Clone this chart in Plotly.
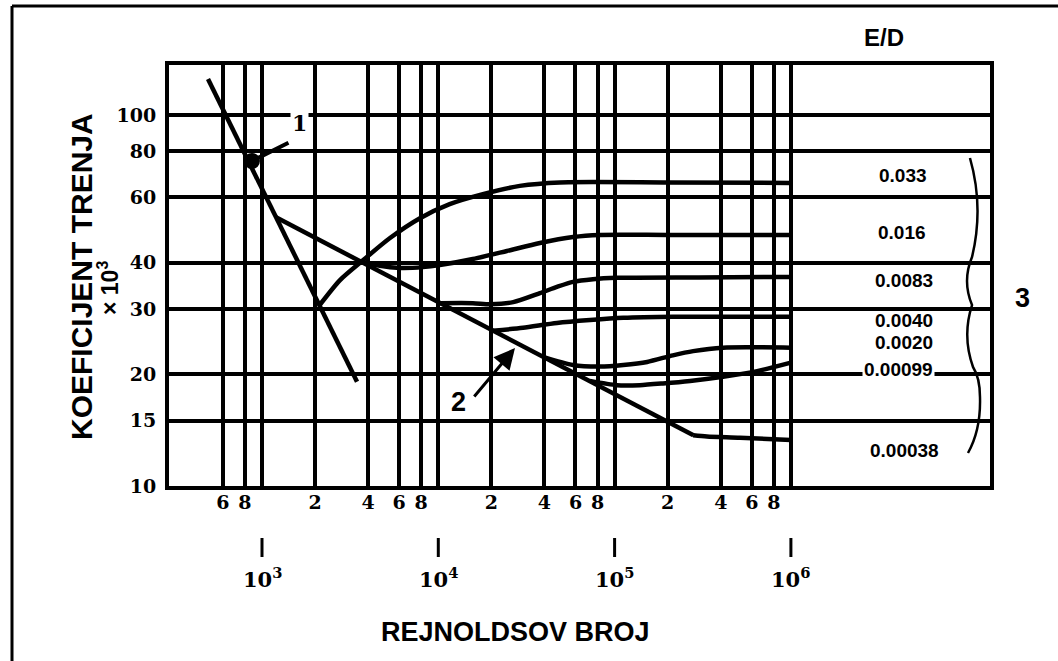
import plotly.graph_objects as go
import math

# ---- data: Reynolds number vs friction coefficient (x 10^3) ----
lam_re = [494, 3460]
lam_f = [125, 19.1]

smooth_re = [1200, 4000, 10000, 20000, 40000, 100000, 280000]
smooth_f = [53.0, 39.3, 31.3, 26.4, 22.2, 17.7, 13.7]

ed_033_re = [2130, 2770, 3740, 5320, 7870, 11600, 17900, 29000, 49000, 200000, 1000000]
ed_033_f = [30.8, 35.9, 40.6, 46.6, 52.7, 57.5, 61.2, 64.4, 65.8, 65.8, 65.6]

ed_016_re = [3740, 4670, 6070, 8180, 10200, 15700, 24500, 37700, 58100, 82600, 200000, 1000000]
ed_016_f = [40.2, 39.2, 38.7, 38.9, 39.4, 40.9, 43.0, 45.2, 46.9, 47.5, 47.5, 47.5]

ed_0083_re = [10200, 15700, 19700, 26600, 37700, 47100, 58100, 75400, 103000, 300000, 1000000]
ed_0083_f = [31.1, 31.1, 30.9, 31.3, 33.1, 34.4, 35.5, 36.1, 36.4, 36.5, 36.6]

ed_0040_re = [20400, 30200, 47100, 72500, 112000, 214000, 1000000]
ed_0040_f = [26.2, 26.7, 27.5, 28.0, 28.4, 28.6, 28.6]

ed_0020_re = [39300, 58100, 82600, 112000, 153000, 214000, 279000, 412000, 1000000]
ed_0020_f = [22.3, 21.2, 21.0, 21.2, 21.6, 22.5, 23.1, 23.6, 23.6]

ed_00099_re = [72500, 103000, 139000, 188000, 268000, 412000, 643000, 1000000]
ed_00099_f = [19.2, 18.7, 18.7, 18.9, 19.2, 19.7, 20.4, 21.5]

ed_00038_re = [279000, 334000, 514000, 1000000]
ed_00038_f = [13.7, 13.6, 13.5, 13.3]

# roughness labels (E/D) for the right-hand column
ed_labels = ["0.033", "0.016", "0.0083", "0.0040", "0.0020", "0.00099", "0.00038"]

# axis ticks
x_tickvals = [600, 800, 1000, 2000, 4000, 6000, 8000, 10000, 20000, 40000, 60000, 80000,
              100000, 200000, 400000, 600000, 800000, 1000000]
x_ticktext = ["6", "8", "", "2", "4", "6", "8", "", "2", "4", "6", "8", "", "2", "4", "6", "8", ""]
decades = [1000, 10000, 100000, 1000000]
decade_exp = ["3", "4", "5", "6"]
y_tickvals = [10, 15, 20, 30, 40, 60, 80, 100]

# ---- layout geometry (pixels) ----
W, H = 1058, 661
L, R, T, B = 169, 990, 65, 486


def px(x):
    return (x - L) / (R - L)


def py(y):
    return (B - y) / (B - T)


fig = go.Figure()

fig.add_trace(go.Scatter(x=lam_re, y=lam_f, mode="lines", line=dict(color="black", width=4.5)))
fig.add_trace(go.Scatter(x=smooth_re, y=smooth_f, mode="lines", line=dict(color="black", width=4.5)))
for xs, ys in [(ed_033_re, ed_033_f), (ed_016_re, ed_016_f), (ed_0083_re, ed_0083_f),
               (ed_0040_re, ed_0040_f), (ed_0020_re, ed_0020_f), (ed_00099_re, ed_00099_f),
               (ed_00038_re, ed_00038_f)]:
    fig.add_trace(go.Scatter(x=xs, y=ys, mode="lines",
                             line=dict(color="black", width=4.5, shape="spline", smoothing=0.7)))

serif_bold = dict(family="DejaVu Serif", size=19, color="black", weight="bold")
sans_bold = dict(family="Liberation Sans", color="black", weight="bold")

ymax_log = 1 + (B - T) / 371.0
xmin_log = 3 + (L - 262) / 176.3
xmax_log = 3 + (R - 262) / 176.3

fig.update_layout(
    width=W, height=H,
    margin=dict(l=L, r=W - R, t=T, b=H - B),
    paper_bgcolor="white", plot_bgcolor="white",
    showlegend=False,
    xaxis=dict(type="log", range=[xmin_log, xmax_log],
               tickvals=x_tickvals, ticktext=x_ticktext,
               showgrid=True, gridcolor="black", gridwidth=3.5,
               showline=True, linecolor="black", linewidth=4, mirror=True,
               ticks="", ticklabelstandoff=-4, tickfont=serif_bold, zeroline=False),
    yaxis=dict(type="log", range=[1, ymax_log],
               tickvals=y_tickvals, ticktext=[str(v) for v in y_tickvals],
               showgrid=True, gridcolor="black", gridwidth=3.5,
               showline=True, linecolor="black", linewidth=4, mirror=True,
               ticks="", ticklabelstandoff=5, tickfont=serif_bold, zeroline=False),
)

ann = []


def label(x, y, text, font, **kw):
    d = dict(x=x, y=y, xref="paper", yref="paper", text=text, showarrow=False,
             xanchor="center", yanchor="middle", font=font)
    d.update(kw)
    ann.append(d)


# decade labels and their marks under the axis
for d, e in zip(decades, decade_exp):
    fig.add_shape(type="line", xref="x", yref="paper", x0=d, x1=d,
                  y0=py(538), y1=py(557), line=dict(color="black", width=3))
    label(math.log10(d), py(578), f"10<sup>{e}</sup>",
          dict(family="DejaVu Serif", size=21, color="black", weight="bold"), xref="x")

# axis titles
label(px(81), py(277), "KOEFICIJENT TRENJA", dict(size=30, **sans_bold), textangle=-90)
label(px(108), py(288), "× 10<sup>3</sup>", dict(size=23, **sans_bold), textangle=-90)
label(px(515), py(632), "REJNOLDSOV BROJ", dict(size=27, **sans_bold))

# E/D column
label(px(884), py(37), "E/D", dict(size=24, **sans_bold))
ed_pos = [(903, 175), (902, 232), (904, 280), (904, 320), (904, 342), (898, 369), (904, 450)]
for lab, (lx, ly) in zip(ed_labels, ed_pos):
    if lab == "0.00099":
        label(px(lx), py(ly), lab, dict(size=19, **sans_bold), bgcolor="white", borderpad=1)
    else:
        label(px(lx), py(ly), lab, dict(size=19, **sans_bold))

label(px(1022), py(298), "3", dict(size=27, **sans_bold))

# callouts 1 and 2
ann.append(dict(x=3.2155, y=1.978, xref="x", yref="y", text="1", showarrow=False,
                xanchor="center", yanchor="middle", bgcolor="white",
                font=dict(family="DejaVu Serif", size=22, color="black", weight="bold")))
ann.append(dict(x=2.943, y=1.876, xref="x", yref="y", text="", showarrow=True,
                ax=38, ay=-19, arrowhead=6, arrowsize=1.0, arrowwidth=4, arrowcolor="black"))
ann.append(dict(x=4.112, y=1.226, xref="x", yref="y", text="2", showarrow=False,
                xanchor="center", yanchor="middle",
                font=dict(family="Liberation Sans", size=27, color="black", weight="bold")))
ann.append(dict(x=4.435, y=1.372, xref="x", yref="y", text="", showarrow=True,
                ax=-42, ay=50, arrowhead=2, arrowsize=1.4, arrowwidth=3, arrowcolor="black"))

fig.update_layout(annotations=ann)

# brace grouping the roughness labels
pts = [(970, 158), (984, 207), (972, 257), (962, 281), (972, 305), (962, 336), (973, 367),
       (980, 378), (980, 397), (981, 430), (968, 453)]
p = [(px(a), py(b)) for a, b in pts]
path = "M {:.4f},{:.4f}".format(*p[0])
for i in range(1, len(p), 2):
    path += " Q {:.4f},{:.4f} {:.4f},{:.4f}".format(p[i][0], p[i][1], p[i + 1][0], p[i + 1][1])
fig.add_shape(type="path", xref="paper", yref="paper", path=path,
              line=dict(color="black", width=2.5))

# outer frame (top and left edges)
fig.add_shape(type="line", xref="paper", yref="paper", x0=px(12), x1=px(1060),
              y0=py(6), y1=py(6), line=dict(color="black", width=3))
fig.add_shape(type="line", xref="paper", yref="paper", x0=px(12), x1=px(12),
              y0=py(6), y1=py(663), line=dict(color="black", width=3))

fig.write_html("out.html")
